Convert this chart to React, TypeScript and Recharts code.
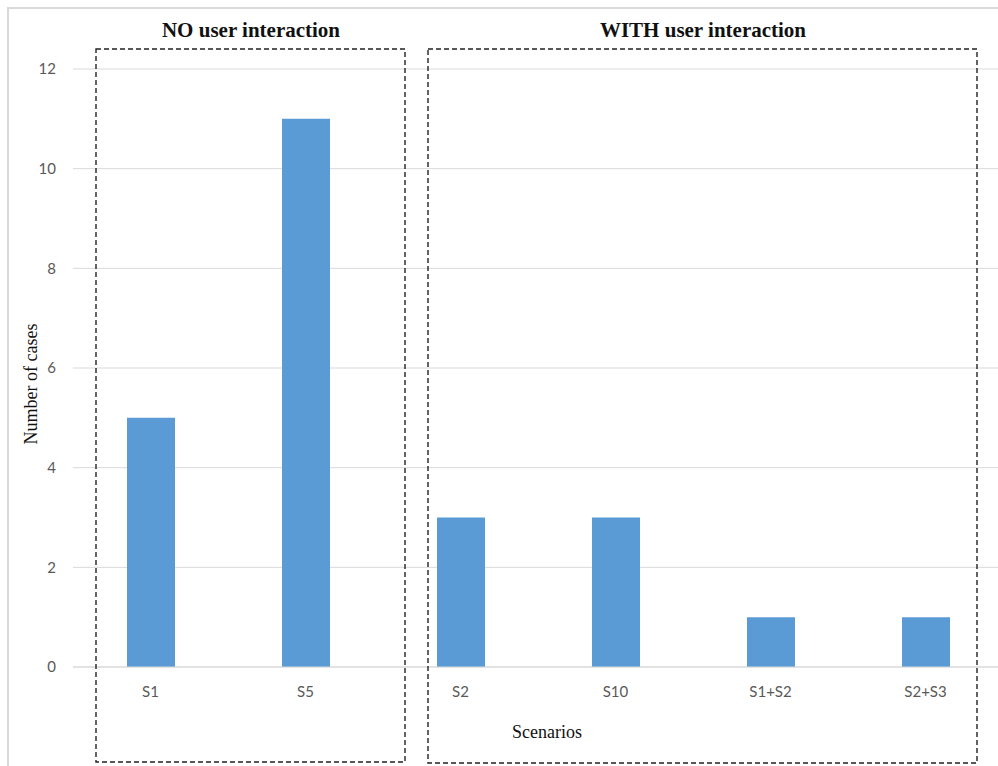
import { Bar, BarChart, CartesianGrid, XAxis, YAxis } from 'recharts'

const scenarios = ['S1', 'S5', 'S2', 'S10', 'S1+S2', 'S2+S3']
const caseCounts = [5, 11, 3, 3, 1, 1]
const yTicks = [0, 2, 4, 6, 8, 10, 12]

const data = scenarios.map((name, i) => ({ name, cases: caseCounts[i] }))

const BAR = '#5b9bd5'
const GRID = '#d9d9d9'
const TICK = { fontSize: 15, fill: '#595959', fontFamily: 'Lato, sans-serif' }
const SERIF = '"Liberation Serif", "Times New Roman", serif'

// dashed frames grouping the scenarios, with their headings
function GroupFrames() {
  return (
    <svg width={998} height={766} style={{ position: 'absolute', left: 0, top: 0, pointerEvents: 'none' }}>
      <g fill="none" stroke="#222" strokeWidth={1.4} strokeDasharray="5 3">
        <rect x={96} y={49} width={309} height={713} />
        <rect x={428} y={49} width={549} height={714} />
      </g>
      <g fontFamily={SERIF} fontWeight="bold" fontSize={21} fill="#111" textAnchor="middle">
        <text x={251} y={37}>NO user interaction</text>
        <text x={703} y={37}>WITH user interaction</text>
      </g>
      <text x={547} y={738} fontFamily={SERIF} fontSize={18} fill="#111" textAnchor="middle">
        Scenarios
      </text>
      <text
        x={0}
        y={0}
        transform="translate(37 384) rotate(-90)"
        fontFamily={SERIF}
        fontSize={18}
        fill="#111"
        textAnchor="middle"
      >
        Number of cases
      </text>
    </svg>
  )
}

export default function App() {
  return (
    <div
      style={{
        position: 'absolute',
        left: 0,
        top: 0,
        width: 998,
        height: 766,
        overflow: 'hidden',
        background: '#fff',
      }}
    >
      <div
        style={{
          position: 'absolute',
          left: 7,
          top: 7,
          width: 1100,
          height: 900,
          borderLeft: `2px solid ${GRID}`,
          borderTop: `2px solid ${GRID}`,
        }}
      />
      <div style={{ position: 'absolute', left: 0, top: 0 }}>
        <BarChart
          width={1010}
          height={766}
          data={data}
          margin={{ top: 69, right: 7, bottom: 69, left: 33 }}
          barCategoryGap={0}
        >
          <CartesianGrid vertical={false} stroke={GRID} />
          <XAxis
            dataKey="name"
            height={30}
            tick={TICK}
            tickLine={false}
            tickSize={0}
            tickMargin={19}
            axisLine={{ stroke: GRID }}
          />
          <YAxis
            width={40}
            domain={[0, 12]}
            ticks={yTicks}
            tick={TICK}
            tickLine={false}
            tickSize={0}
            tickMargin={17}
            axisLine={false}
          />
          <Bar dataKey="cases" fill={BAR} barSize={48} isAnimationActive={false} />
        </BarChart>
      </div>
      <GroupFrames />
    </div>
  )
}
